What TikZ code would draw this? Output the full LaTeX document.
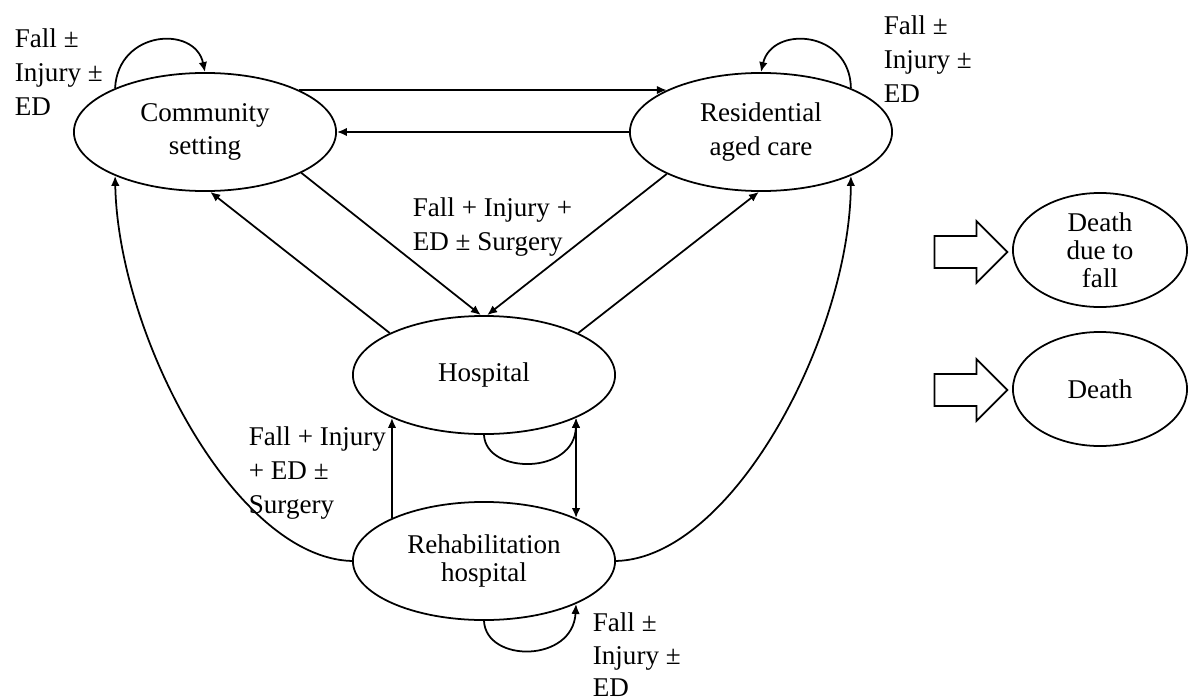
\documentclass[tikz,border=0pt]{standalone}
\usepackage{fontspec}
\setmainfont{Liberation Serif}
\usetikzlibrary{shapes.geometric,shapes.arrows,arrows.meta}

\begin{document}
\begin{tikzpicture}[x=0.01cm,y=-0.01cm,line width=0.5pt,
	every node/.style={font=\fontsize{7.7}{9.6}\selectfont},
	state/.style={draw, ellipse, align=center, inner sep=0pt, minimum width=2.62cm, minimum height=1.18cm},
	deathstate/.style={draw, ellipse, align=center, inner sep=0pt, minimum width=1.74cm, minimum height=1.14cm},
	tight/.style={font=\fontsize{7.7}{7.9}\selectfont},
	lbl/.style={align=left, anchor=north west, inner sep=0pt},
	blockarrow/.style={draw, single arrow, single arrow head extend=0.15cm, inner sep=0.15cm, minimum height=0.73cm},
	>={Latex[length=1mm,width=0.85mm]}]
	\useasboundingbox (0,0) rectangle (1193,700);

	% states
	\node[state] (community) at (205,132) {Community\\setting};
	\node[state] (residential) at (761,132) {Residential\\aged care};
	\node[state] (hospital) at (484,375) {Hospital};
	\node[state, tight] (rehab) at (484,561) {Rehabilitation\\hospital};
	\node[deathstate, tight] (deathfall) at (1100,250) {Death\\due to\\fall};
	\node[deathstate] (death) at (1100,389) {Death};

	% block arrows
	\node[blockarrow] (arrowfall) at (963,252) {};
	\node[blockarrow] (arrowdeath) at (963,390) {};

	% labels
	\node[lbl] (lblcommunity) at (14,28) {Fall ±\\Injury ±\\ED};
	\node[lbl] (lblresidential) at (883,15) {Fall ±\\Injury ±\\ED};
	\node[lbl] (lbladmit) at (412,197) {Fall + Injury +\\ED ± Surgery};
	\node[lbl] (lbltransfer) at (248,426) {Fall + Injury\\+ ED ±\\Surgery};
	\node[lbl, font=\fontsize{7.7}{9.2}\selectfont] (lblrehab) at (592,612) {Fall ±\\Injury ±\\ED};

	% transitions
	\draw[->] (community.24) -- (residential.156);
	\draw[->] (residential.west) -- (community.east);
	\draw[->] (community.-23) -- (hospital.93);
	\draw[->] (residential.204) -- (hospital.87);
	\draw[->] (hospital.156) -- (community.-85);
	\draw[->] (hospital.24) -- (residential.-92);
	\draw[->] (rehab.155) -- (hospital.205);
	\draw[<->] (hospital.-25) -- (rehab.25);
	\draw[->] (rehab.west) .. controls (235,558) and (118,335) .. (community.206);
	\draw[->] (rehab.east) .. controls (733,558) and (850,335) .. (residential.-26);

	% self loops
	\draw[->] (community.154) .. controls (118,30) and (195,25) .. (community.north);
	\draw[->] (residential.26) .. controls (850,30) and (772,25) .. (residential.north);
	\draw[->] (hospital.south) .. controls (486,475) and (575,475) .. (hospital.-25);
	\draw[->] (rehab.south) .. controls (486,663) and (573,663) .. (rehab.-25);
\end{tikzpicture}
\end{document}
